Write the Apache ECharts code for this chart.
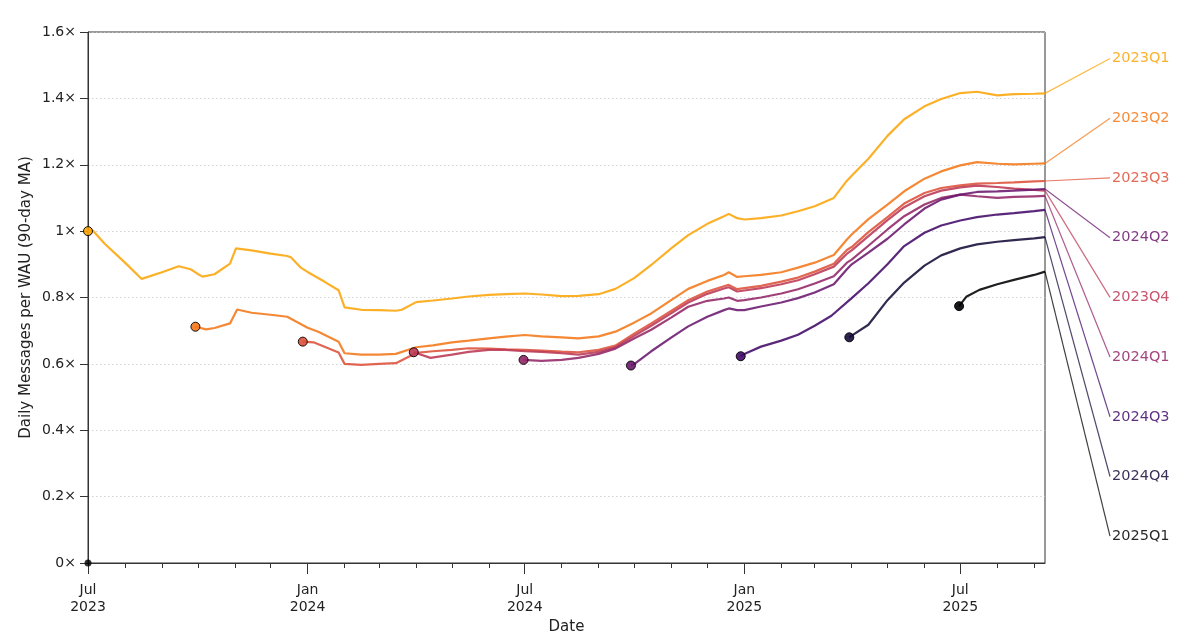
<!DOCTYPE html>
<html><head><meta charset="utf-8">
<script src="https://cdn.jsdelivr.net/npm/echarts@6/dist/echarts.min.js"></script>
<style>html,body{margin:0;padding:0;background:#fff}#c{width:1200px;height:634px}</style>
</head><body><div id="c"></div><script>
// ---------------- data ----------------
const cohortNames = ['2023Q1','2023Q2','2023Q3','2023Q4','2024Q1','2024Q2','2024Q3','2024Q4','2025Q1'];

const c2023Q1 = [['2023-07-01',1.000],['2023-07-05',1.002],['2023-07-15',0.962],['2023-08-01',0.905],['2023-08-15',0.856],['2023-09-01',0.876],['2023-09-15',0.894],['2023-09-25',0.885],['2023-10-01',0.871],['2023-10-05',0.863],['2023-10-15',0.870],['2023-10-28',0.902],['2023-11-02',0.948],['2023-11-15',0.942],['2023-12-01',0.932],['2023-12-15',0.925],['2023-12-18',0.921],['2023-12-26',0.891],['2024-01-01',0.877],['2024-01-15',0.848],['2024-01-27',0.822],['2024-02-01',0.770],['2024-02-15',0.763],['2024-03-01',0.762],['2024-03-15',0.760],['2024-03-20',0.763],['2024-04-01',0.786],['2024-04-15',0.791],['2024-05-01',0.797],['2024-05-15',0.803],['2024-06-01',0.808],['2024-06-15',0.810],['2024-07-01',0.812],['2024-07-15',0.809],['2024-08-01',0.804],['2024-08-15',0.805],['2024-09-01',0.810],['2024-09-15',0.826],['2024-10-01',0.859],['2024-10-15',0.898],['2024-11-01',0.949],['2024-11-15',0.988],['2024-12-01',1.022],['2024-12-15',1.045],['2024-12-19',1.052],['2024-12-26',1.039],['2025-01-01',1.035],['2025-01-15',1.039],['2025-02-01',1.047],['2025-02-15',1.060],['2025-03-01',1.075],['2025-03-17',1.100],['2025-03-28',1.152],['2025-04-01',1.167],['2025-04-15',1.218],['2025-05-01',1.287],['2025-05-15',1.337],['2025-06-01',1.376],['2025-06-15',1.398],['2025-07-01',1.416],['2025-07-15',1.420],['2025-08-01',1.409],['2025-08-15',1.413],['2025-09-01',1.414],['2025-09-10',1.415]];

const c2023Q2 = [['2023-09-29',0.712],['2023-10-08',0.704],['2023-10-15',0.708],['2023-10-28',0.722],['2023-11-03',0.764],['2023-11-15',0.754],['2023-12-01',0.748],['2023-12-15',0.742],['2024-01-01',0.709],['2024-01-10',0.697],['2024-01-27',0.667],['2024-02-01',0.632],['2024-02-15',0.628],['2024-03-01',0.628],['2024-03-15',0.630],['2024-04-01',0.650],['2024-04-15',0.656],['2024-05-01',0.665],['2024-05-15',0.670],['2024-06-01',0.677],['2024-06-15',0.682],['2024-07-01',0.687],['2024-07-15',0.683],['2024-08-01',0.680],['2024-08-15',0.677],['2024-09-01',0.683],['2024-09-15',0.697],['2024-10-01',0.725],['2024-10-15',0.752],['2024-11-01',0.793],['2024-11-15',0.826],['2024-12-01',0.850],['2024-12-15',0.868],['2024-12-19',0.876],['2024-12-26',0.862],['2025-01-01',0.864],['2025-01-15',0.868],['2025-02-01',0.876],['2025-02-15',0.890],['2025-03-01',0.905],['2025-03-17',0.928],['2025-03-28',0.975],['2025-04-01',0.990],['2025-04-15',1.036],['2025-05-01',1.080],['2025-05-15',1.120],['2025-06-01',1.158],['2025-06-15',1.180],['2025-07-01',1.198],['2025-07-15',1.208],['2025-08-01',1.203],['2025-08-15',1.201],['2025-09-01',1.203],['2025-09-10',1.204]];

const c2023Q3 = [['2023-12-28',0.667],['2024-01-06',0.665],['2024-01-27',0.634],['2024-02-01',0.600],['2024-02-15',0.597],['2024-03-01',0.600],['2024-03-15',0.602],['2024-04-01',0.633],['2024-04-15',0.638],['2024-05-01',0.642],['2024-05-15',0.647],['2024-06-01',0.646],['2024-06-15',0.644],['2024-07-01',0.642],['2024-07-15',0.640],['2024-08-01',0.637],['2024-08-15',0.635],['2024-09-01',0.642],['2024-09-15',0.655],['2024-10-01',0.692],['2024-10-15',0.722],['2024-11-01',0.760],['2024-11-15',0.792],['2024-12-01',0.818],['2024-12-15',0.834],['2024-12-19',0.838],['2024-12-26',0.825],['2025-01-01',0.828],['2025-01-15',0.835],['2025-02-01',0.848],['2025-02-15',0.860],['2025-03-01',0.878],['2025-03-17',0.902],['2025-03-28',0.943],['2025-04-01',0.952],['2025-04-15',0.997],['2025-05-01',1.042],['2025-05-15',1.083],['2025-06-01',1.115],['2025-06-15',1.130],['2025-07-01',1.138],['2025-07-15',1.143],['2025-08-01',1.145],['2025-08-15',1.147],['2025-09-01',1.150],['2025-09-10',1.151]];

const c2023Q4 = [['2024-03-30',0.635],['2024-04-13',0.618],['2024-05-01',0.628],['2024-05-15',0.636],['2024-06-01',0.642],['2024-06-15',0.642],['2024-07-01',0.638],['2024-07-15',0.636],['2024-08-01',0.632],['2024-08-15',0.628],['2024-09-01',0.636],['2024-09-15',0.650],['2024-10-01',0.685],['2024-10-15',0.715],['2024-11-01',0.753],['2024-11-15',0.785],['2024-12-01',0.811],['2024-12-15',0.827],['2024-12-19',0.831],['2024-12-26',0.818],['2025-01-01',0.821],['2025-01-15',0.828],['2025-02-01',0.840],['2025-02-15',0.852],['2025-03-01',0.870],['2025-03-17',0.893],['2025-03-28',0.932],['2025-04-01',0.942],['2025-04-15',0.985],['2025-05-01',1.033],['2025-05-15',1.072],['2025-06-01',1.105],['2025-06-15',1.122],['2025-07-01',1.132],['2025-07-15',1.137],['2025-08-01',1.133],['2025-08-15',1.128],['2025-09-01',1.124],['2025-09-10',1.122]];

const c2024Q1 = [['2024-06-30',0.612],['2024-07-15',0.609],['2024-08-01',0.612],['2024-08-15',0.618],['2024-09-01',0.630],['2024-09-15',0.646],['2024-10-01',0.677],['2024-10-15',0.703],['2024-11-01',0.740],['2024-11-15',0.772],['2024-12-01',0.790],['2024-12-15',0.797],['2024-12-19',0.800],['2024-12-26',0.790],['2025-01-01',0.792],['2025-01-15',0.800],['2025-02-01',0.812],['2025-02-15',0.825],['2025-03-01',0.842],['2025-03-17',0.864],['2025-03-28',0.905],['2025-04-01',0.914],['2025-04-15',0.956],['2025-05-01',1.005],['2025-05-15',1.045],['2025-06-01',1.080],['2025-06-15',1.100],['2025-07-01',1.110],['2025-07-15',1.105],['2025-08-01',1.100],['2025-08-15',1.103],['2025-09-01',1.105],['2025-09-10',1.106]];

const c2024Q2 = [['2024-09-28',0.595],['2024-10-01',0.600],['2024-10-15',0.638],['2024-11-01',0.680],['2024-11-15',0.713],['2024-12-01',0.742],['2024-12-15',0.762],['2024-12-19',0.767],['2024-12-26',0.762],['2025-01-01',0.762],['2025-01-15',0.773],['2025-02-01',0.785],['2025-02-15',0.798],['2025-03-01',0.815],['2025-03-17',0.840],['2025-03-28',0.885],['2025-04-01',0.900],['2025-04-15',0.935],['2025-05-01',0.977],['2025-05-15',1.020],['2025-06-01',1.068],['2025-06-15',1.095],['2025-07-01',1.110],['2025-07-15',1.118],['2025-08-01',1.120],['2025-08-15',1.122],['2025-09-01',1.125],['2025-09-10',1.127]];

const c2024Q3 = [['2024-12-29',0.623],['2025-01-01',0.630],['2025-01-15',0.652],['2025-02-01',0.670],['2025-02-15',0.688],['2025-03-01',0.715],['2025-03-15',0.745],['2025-04-01',0.798],['2025-04-15',0.843],['2025-05-01',0.900],['2025-05-15',0.955],['2025-06-01',0.995],['2025-06-15',1.017],['2025-07-01',1.032],['2025-07-15',1.042],['2025-08-01',1.050],['2025-08-15',1.054],['2025-09-01',1.060],['2025-09-10',1.064]];

const c2024Q4 = [['2025-03-30',0.680],['2025-04-01',0.685],['2025-04-15',0.718],['2025-05-01',0.792],['2025-05-15',0.845],['2025-06-01',0.896],['2025-06-15',0.927],['2025-07-01',0.948],['2025-07-15',0.960],['2025-08-01',0.968],['2025-08-15',0.973],['2025-09-01',0.978],['2025-09-10',0.982]];

const c2025Q1 = [['2025-06-30',0.774],['2025-07-06',0.802],['2025-07-17',0.823],['2025-08-01',0.840],['2025-08-15',0.853],['2025-09-01',0.868],['2025-09-10',0.878]];

const originPoint = ['2023-07-01', 0];

const yTicks = [0, 0.2, 0.4, 0.6, 0.8, 1.0, 1.2, 1.4, 1.6];
const xMajorTicks = ['2023-07-01','2024-01-01','2024-07-01','2025-01-01','2025-07-01'];
const monthNames = ['Jan','Feb','Mar','Apr','May','Jun','Jul','Aug','Sep','Oct','Nov','Dec'];
const xMin = '2023-07-01', xMax = '2025-09-10';

// ---------------- style / layout ----------------
const cohortData = [c2023Q1,c2023Q2,c2023Q3,c2023Q4,c2024Q1,c2024Q2,c2024Q3,c2024Q4,c2025Q1];
const colors = ['#fca50a','#f37819','#dd513a','#bc3754','#932667','#6a176e','#420a68','#160b39','#000004'];
const FONT = 'DejaVu Sans';
// label column (helper grid to the right of the plot, x in pixels from plot edge)
const labelTop = 1.52, labelStep = 0.1799, leaderLen = 65, sideWidth = 155;

function toMs(s){ const p = s.split('-').map(Number); return Date.UTC(p[0], p[1]-1, p[2]); }
const conv = d => d.map(p => [toMs(p[0]), p[1]]);
const minMs = toMs(xMin), maxMs = toMs(xMax);
const majorMs = xMajorTicks.map(toMs);
const minorMs = [];
{ const d0 = new Date(minMs); let y = d0.getUTCFullYear(), m = d0.getUTCMonth();
  while (true) { const t = Date.UTC(y, m, 1); if (t > maxMs) break; if (t >= minMs) minorMs.push(t); m++; if (m > 11) { m = 0; y++; } } }

// label slots ordered by final value
const order = cohortData.map((d,i)=>i).sort((a,b)=>cohortData[b][cohortData[b].length-1][1]-cohortData[a][cohortData[a].length-1][1]);
const slot = {}; order.forEach((idx,k)=>{ slot[idx]=k; });

const series = [];
cohortData.forEach((d,i)=>{
  series.push({type:'line', name:cohortNames[i], data:conv(d), symbol:'none', showSymbol:false,
    lineStyle:{width:2.2, color:colors[i], opacity:0.88}, itemStyle:{color:colors[i]}, z:2, silent:true});
});
cohortData.forEach((d,i)=>{
  const last = d[d.length-1];
  series.push({type:'line', name:cohortNames[i]+'-label', xAxisIndex:2, yAxisIndex:1, clip:false, silent:true,
    symbol:'none', showSymbol:false,
    data:[[0, last[1]], [leaderLen, labelTop - slot[i]*labelStep]],
    lineStyle:{width:1.2, color:colors[i], opacity:0.75}, z:1,
    endLabel:{show:true, formatter:cohortNames[i], color:colors[i], opacity:0.85, fontSize:14.5, fontFamily:FONT, distance:2}});
});
const markerData = cohortData.map((d,i)=>({value:[toMs(d[0][0]), d[0][1]], itemStyle:{color:colors[i], opacity:0.9}}));
markerData.unshift({value:[toMs(originPoint[0]), originPoint[1]], symbolSize:7, itemStyle:{color:'#000', borderWidth:0}});
series.push({type:'scatter', data:markerData, symbolSize:9, z:5, silent:true,
  itemStyle:{borderColor:'#000', borderWidth:1}});

const chart = echarts.init(document.getElementById('c'), null, {renderer:'canvas'});
chart.setOption({
  animation:false,
  backgroundColor:'#fff',
  textStyle:{fontFamily:FONT},
  grid:[
    {left:88, right:sideWidth, top:32, bottom:71, show:true, borderColor:'#333', borderWidth:1, containLabel:false, outerBoundsMode:'none'},
    {right:0, width:sideWidth, top:32, bottom:71, show:false, containLabel:false, outerBoundsMode:'none'}
  ],
  xAxis:[{
    type:'value', min:minMs, max:maxMs,
    name:'Date', nameLocation:'middle', nameGap:57, nameMoveOverlap:false, nameTextStyle:{fontSize:15, color:'#222', fontFamily:FONT},
    axisLine:{show:true, lineStyle:{color:'#333', width:1}},
    axisTick:{show:true, customValues:majorMs, length:11, lineStyle:{color:'#333', width:1}},
    axisLabel:{show:true, customValues:majorMs, fontSize:14, color:'#222', fontFamily:FONT, lineHeight:17, margin:19,
      formatter:function(v){ const d = new Date(v); return monthNames[d.getUTCMonth()] + '\n' + d.getUTCFullYear(); }},
    splitLine:{show:false}
  },{
    type:'value', min:minMs, max:maxMs, position:'bottom',
    axisLine:{show:false},
    axisTick:{show:true, customValues:minorMs, length:5, lineStyle:{color:'#333', width:1}},
    axisLabel:{show:false}, splitLine:{show:false}
  },{
    gridIndex:1, type:'value', min:0, max:sideWidth, show:false
  }],
  yAxis:[{
    type:'value', min:yTicks[0], max:yTicks[yTicks.length-1], interval:0.2,
    name:'Daily Messages per WAU (90-day MA)', nameLocation:'middle', nameGap:54, nameMoveOverlap:false,
    nameTextStyle:{fontSize:15, color:'#222', fontFamily:FONT},
    axisLine:{show:true, lineStyle:{color:'#333', width:1}},
    axisTick:{show:true, length:8, lineStyle:{color:'#333', width:1}},
    axisLabel:{fontSize:14, color:'#222', fontFamily:FONT, margin:12,
      formatter:function(v){ return parseFloat(v.toFixed(1)) + '×'; }},
    splitLine:{show:true, lineStyle:{color:'#c8c8c8', type:[1.5,2.5], width:0.8}}
  },{
    gridIndex:1, type:'value', min:yTicks[0], max:yTicks[yTicks.length-1], show:false
  }],
  series:series
});
</script></body></html>
